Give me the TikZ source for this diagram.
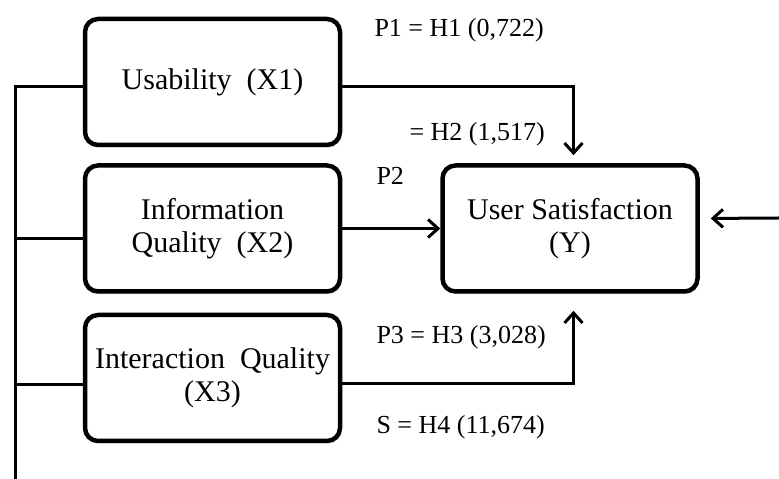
\documentclass[tikz,border=0pt]{standalone}
\usepackage{fontspec}
\setmainfont{Liberation Serif}
\usetikzlibrary{positioning, arrows.meta, shadows}
\newcommand{\linkarrow}{-{Straight Barb[length=10pt,width=18pt]}}
\newcommand{\boxfont}{\fontsize{30}{33}\selectfont}
\newcommand{\labelfont}{\fontsize{26}{30}\selectfont}
\tikzset{
  varbox/.style={draw, line width=4.5pt, rounded corners=13pt, fill=white,
    minimum width=255pt, minimum height=126pt, align=center, font=\boxfont,
    drop shadow={shadow xshift=1.5pt, shadow yshift=-2.5pt, opacity=.3}},
  pathlabel/.style={anchor=west, inner sep=0pt, font=\labelfont}
}

\begin{document}
\begin{tikzpicture}[line width=3pt]
  \useasboundingbox (0,0) rectangle (779pt,479pt);
  \node[varbox] (x1) at (212.5pt,397pt) {Usability\ \ (X1)};
  \node[varbox, below=16pt of x1] (x2) {Information\\Quality\ \ (X2)};
  \node[varbox, below=19pt of x2] (x3) {Interaction\ \ Quality\\(X3)};
  \node[varbox, right=98pt of x2] (ysat) {User Satisfaction\\(Y)};
  \coordinate (trunkend) at (15pt,0pt);
  \coordinate (feedin) at (779pt,261pt);
  % left trunk
  \draw ([yshift=-5pt]x1.west) -| (trunkend);
  \draw ([yshift=-10pt]x2.west) -| (trunkend);
  \draw ([yshift=-7pt]x3.west) -| (trunkend);
  % paths into Y
  \draw[\linkarrow, shorten >=8pt] ([yshift=-5pt]x1.east) -| ([xshift=3.5pt]ysat.north);
  \draw[\linkarrow] (x2) -- (ysat);
  \draw[\linkarrow, shorten >=17pt] ([yshift=-6pt]x3.east) -| ([xshift=3.5pt]ysat.south);
  \draw[\linkarrow, shorten >=11pt] (feedin) -- ([yshift=10pt]ysat.east);
  % labels
  \node[pathlabel] (h1) at (373pt,448.8pt) {P1 = H1 (0,722)};
  \node[pathlabel] (h2) at (408pt,344.8pt) {= H2 (1,517)};
  \node[pathlabel] (p2) at (375pt,303.6pt) {P2};
  \node[pathlabel] (h3) at (375pt,142pt) {P3 = H3 (3,028)};
  \node[pathlabel] (h4) at (375pt,51.5pt) {S = H4 (11,674)};
\end{tikzpicture}
\end{document}
